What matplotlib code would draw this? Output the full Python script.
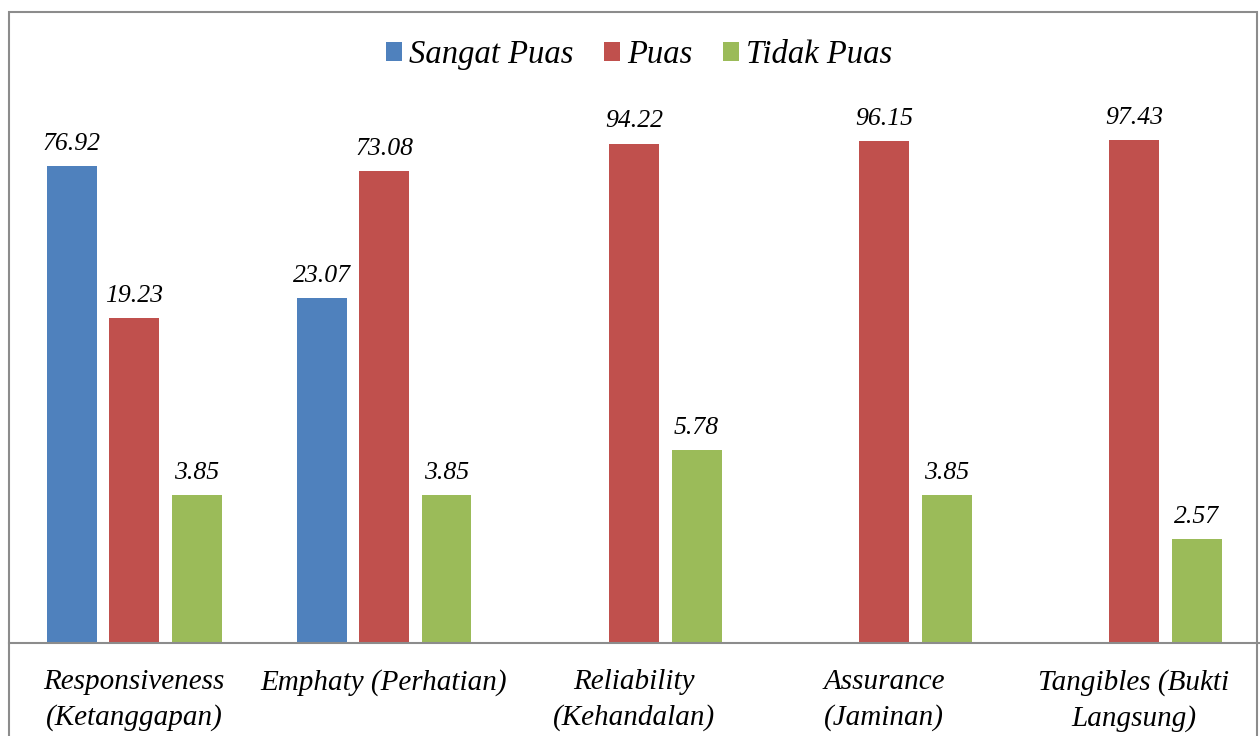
import numpy as np
import matplotlib
matplotlib.use('Agg')
import matplotlib.pyplot as plt
from matplotlib.patches import Rectangle

# data
categories = ['Responsiveness\n(Ketanggapan)', 'Emphaty (Perhatian)',
              'Reliability\n(Kehandalan)', 'Assurance\n(Jaminan)',
              'Tangibles (Bukti\nLangsung)']
series = ['Sangat Puas', 'Puas', 'Tidak Puas']
sangat_puas = [76.92, 23.07, 0, 0, 0]
puas = [19.23, 73.08, 94.22, 96.15, 97.43]
tidak_puas = [3.85, 3.85, 5.78, 3.85, 2.57]
colors = ['#4f81bd', '#c0504d', '#9bbb59']

W, H = 1260, 736
fig = plt.figure(figsize=(W/100., H/100.), dpi=100)
fig.patches.append(Rectangle((9./W, -0.1), 1248./W, 1.1 - 12./H,
                             transform=fig.transFigure, fill=False,
                             edgecolor='#8c8c8c', linewidth=1.5))
ax = fig.add_axes([9./W, (H-643.)/H, 1250./W, 631./H])
ax.set_yscale('log')

x = np.arange(len(categories))
bw = 0.2
off = 0.25
fnt = dict(family='Liberation Serif', style='italic')
for i, (vals, col, name) in enumerate(zip([sangat_puas, puas, tidak_puas],
                                          colors, series)):
    vals = np.array(vals, dtype=float)
    m = vals > 0
    xs = x[m] + (i-1)*off
    ax.bar(xs, vals[m], width=bw, color=col, label=name, bottom=0)
    for xx, v in zip(xs, vals[m]):
        ax.annotate('%.2f' % v, (xx, v), xytext=(0, 8), textcoords='offset points',
                    ha='center', va='bottom', fontsize=18.5, **fnt)

ax.set_xlim(-0.5, len(categories)-0.5)
ax.set_ylim(1, 10**(631./253))
ax.set_xticks(x)
ax.set_xticklabels(categories, fontsize=21, linespacing=1.4, **fnt)
ax.tick_params(axis='x', length=0, pad=19)
ax.set_yticks([])
ax.yaxis.set_minor_locator(matplotlib.ticker.NullLocator())
for s in ['left', 'right', 'top']:
    ax.spines[s].set_visible(False)
ax.spines['bottom'].set_color('#8c8c8c')
ax.spines['bottom'].set_linewidth(1.5)

leg = ax.legend(loc='upper center', bbox_to_anchor=(0.504, 1.003), ncol=3,
                frameon=False, prop=dict(size=23.5, **fnt),
                handlelength=0.5, handleheight=0.5, handletextpad=0.19,
                columnspacing=0.95)

fig.savefig('out.png', dpi=100)
